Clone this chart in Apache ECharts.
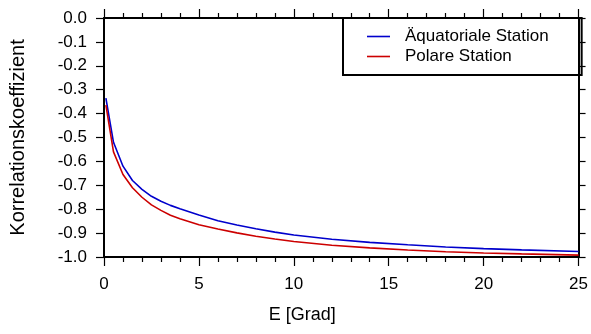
<!DOCTYPE html>
<html>
<head>
<meta charset="utf-8">
<script src="https://cdn.jsdelivr.net/npm/echarts@6/dist/echarts.min.js"></script>
<style>
  html, body { margin: 0; padding: 0; background: #fff; }
  #chart { width: 591px; height: 334px; }
</style>
</head>
<body>
<div id="chart"></div>
<script>
// Elevation in Grad
const elevation = [0.1, 0.5, 1, 1.5, 2, 2.5, 3, 3.5, 4, 5, 6, 7, 8, 9, 10, 12, 14, 16, 18, 20, 22, 25]
// Äquatoriale Station
const aequatorial = [-0.335, -0.52, -0.62, -0.68, -0.717, -0.746, -0.767, -0.784, -0.798, -0.824, -0.848,
    -0.866, -0.882, -0.896, -0.908, -0.926, -0.939, -0.949, -0.958, -0.965, -0.970, -0.977]
// Polare Station
const polar = [-0.365, -0.56, -0.655, -0.71, -0.75, -0.782, -0.805, -0.825, -0.84, -0.865, -0.883,
    -0.899, -0.913, -0.925, -0.935, -0.951, -0.962, -0.971, -0.978, -0.983, -0.987, -0.992]
const seriesNames = ['Äquatoriale Station', 'Polare Station']

const FONT = 'Liberation Sans, Arial, sans-serif'
const chart = echarts.init(document.getElementById('chart'))

const axisLine = { show: true, onZero: false, lineStyle: { color: '#000', width: 2 } }
const tickStyle = { color: '#000', width: 1.2 }

const option = {
    animation: false,
    grid: { left: 104, right: 9, top: 18, bottom: 77 },
    legend: {
        data: seriesNames,
        orient: 'vertical',
        left: 343,
        top: 18,
        padding: [10, 33, 10, 24],
        borderColor: '#000',
        borderWidth: 2,
        borderRadius: 0,
        icon: 'rect',
        itemWidth: 23,
        itemHeight: 1.6,
        itemGap: 3,
        textStyle: { fontFamily: FONT, fontSize: 17, lineHeight: 17, color: '#000', padding: [0, 0, 0, 10] }
    },
    xAxis: [
        {
            type: 'value', min: 0, max: 25, interval: 5,
            name: 'E [Grad]', nameLocation: 'middle', nameGap: 49,
            nameTextStyle: { fontFamily: FONT, fontSize: 18, color: '#000', padding: [0, 78, 0, 0] },
            axisLine,
            axisTick: { show: true, inside: false, length: 9, lineStyle: tickStyle },
            minorTick: { show: true, splitNumber: 5, length: 5, lineStyle: tickStyle },
            axisLabel: { fontFamily: FONT, fontSize: 17, color: '#000', margin: 19 },
            splitLine: { show: false }
        },
        {
            type: 'value', min: 0, max: 25, interval: 5, position: 'top',
            axisLine,
            axisTick: { show: true, inside: false, length: 9, lineStyle: tickStyle },
            minorTick: { show: true, splitNumber: 5, length: 5, lineStyle: tickStyle },
            axisLabel: { show: false },
            splitLine: { show: false }
        }
    ],
    yAxis: [
        {
            type: 'value', min: -1, max: 0, interval: 0.1,
            name: 'Korrelationskoeffizient', nameLocation: 'middle', nameGap: 76,
            nameTextStyle: { fontFamily: FONT, fontSize: 20, color: '#000' },
            axisLine,
            axisTick: { show: true, inside: false, length: 8, lineStyle: tickStyle },
            axisLabel: {
                fontFamily: FONT, fontSize: 17, color: '#000', margin: 17,
                formatter: v => Math.abs(v) < 1e-9 ? '0.0' : v.toFixed(1)
            },
            splitLine: { show: false }
        },
        {
            type: 'value', min: -1, max: 0, interval: 0.1, position: 'right',
            axisLine,
            axisTick: { show: true, inside: false, length: 7, lineStyle: tickStyle },
            axisLabel: { show: false },
            splitLine: { show: false }
        }
    ],
    series: [
        {
            name: seriesNames[0], type: 'line', symbol: 'none',
            lineStyle: { color: '#0000cc', width: 1.6 },
            itemStyle: { color: '#0000cc' },
            data: elevation.map((x, i) => [x, aequatorial[i]])
        },
        {
            name: seriesNames[1], type: 'line', symbol: 'none',
            lineStyle: { color: '#cc0000', width: 1.6 },
            itemStyle: { color: '#cc0000' },
            data: elevation.map((x, i) => [x, polar[i]])
        }
    ]
}

chart.setOption(option)
</script>
</body>
</html>
